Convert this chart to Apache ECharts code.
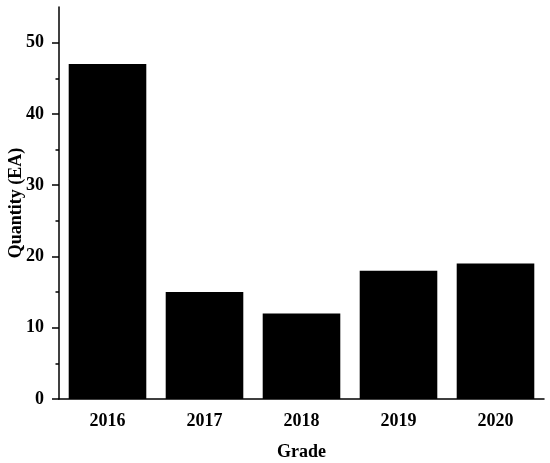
<!DOCTYPE html>
<html>
<head>
<meta charset="utf-8">
<script src="https://cdn.jsdelivr.net/npm/echarts@6/dist/echarts.min.js"></script>
<style>
html,body{margin:0;padding:0;background:#fff;}
#chart{width:550px;height:463px;}
</style>
</head>
<body>
<div id="chart"></div>
<script>
var grades = ['2016', '2017', '2018', '2019', '2020'];
var quantity = [47, 15, 12, 18, 19];
var majorTicks = [0, 10, 20, 30, 40, 50];
var minorTicks = [5, 15, 25, 35, 45];

var chart = echarts.init(document.getElementById('chart'));
var font = 'Liberation Serif';
var lineStyle = {color: '#000', width: 1.5};

chart.setOption({
  animation: false,
  grid: {left: 59, right: 6, top: 7, bottom: 64, outerBoundsMode: 'none', containLabel: false},
  xAxis: [
    {
      type: 'category',
      data: grades,
      position: 'bottom',
      name: 'Grade',
      nameLocation: 'middle',
      nameGap: 44,
      nameMoveOverlap: false,
      nameTextStyle: {fontFamily: font, fontWeight: 'bold', fontSize: 18, color: '#000'},
      axisLine: {lineStyle: lineStyle},
      axisTick: {alignWithLabel: true, length: 7, lineStyle: lineStyle},
      axisLabel: {fontFamily: font, fontWeight: 'bold', fontSize: 18, color: '#000', margin: 13}
    },
    {
      // boundary ticks between categories
      type: 'category',
      data: grades,
      position: 'bottom',
      offset: 0,
      axisLine: {show: false},
      axisTick: {length: 3, lineStyle: lineStyle},
      axisLabel: {show: false}
    }
  ],
  yAxis: [
    {
      type: 'value',
      min: 0,
      max: 55,
      interval: 10,
      name: 'Quantity (EA)',
      nameLocation: 'middle',
      nameGap: 34,
      nameMoveOverlap: false,
      nameTextStyle: {fontFamily: font, fontWeight: 'bold', fontSize: 18, color: '#000'},
      splitLine: {show: false},
      axisLine: {show: true, lineStyle: lineStyle},
      axisTick: {show: true, length: 7, customValues: majorTicks, lineStyle: lineStyle},
      axisLabel: {fontFamily: font, fontWeight: 'bold', fontSize: 18, color: '#000', margin: 15, customValues: majorTicks}
    },
    {
      type: 'value',
      min: 0,
      max: 55,
      position: 'left',
      offset: 0,
      splitLine: {show: false},
      axisLine: {show: false},
      axisTick: {show: true, length: 3.5, customValues: minorTicks, lineStyle: lineStyle},
      axisLabel: {show: false}
    }
  ],
  series: [
    {
      type: 'bar',
      data: quantity,
      barCategoryGap: '20%',
      itemStyle: {color: '#000'}
    }
  ]
});
</script>
</body>
</html>
